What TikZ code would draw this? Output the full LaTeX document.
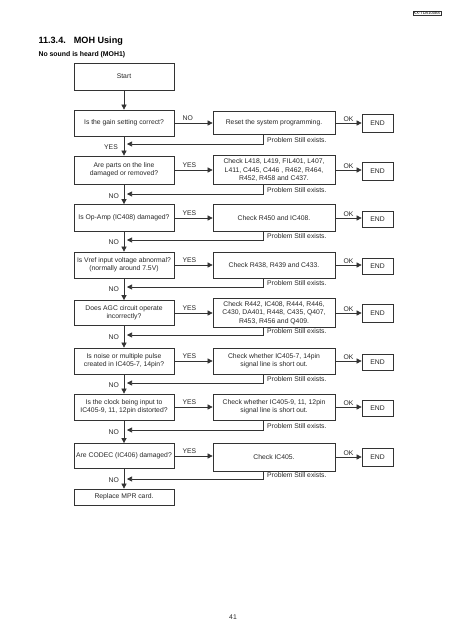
\documentclass[tikz,border=0pt]{standalone}
\usepackage{fontspec}
\setmainfont{Liberation Sans}
\usetikzlibrary{arrows.meta}
\newcommand\boxfont{\fontsize{6.8pt}{8.2pt}\selectfont}

\begin{document}
\begin{tikzpicture}[x=1pt,y=-1pt,
    box/.style={draw=black!80,line width=0.7pt,font=\boxfont,text=black!85,align=center,inner sep=0pt},
    ask/.style={box,minimum width=100pt,minimum height=26pt},
    fix/.style={box,minimum width=122pt,minimum height=26pt},
    endbox/.style={box,minimum width=31pt,minimum height=16pt},
    lbl/.style={font=\boxfont,text=black!85,inner sep=0pt},
    flow/.style={draw=black!80,line width=0.6pt,-{Triangle[length=5pt,width=5pt]}}]

    \useasboundingbox (0,0) rectangle (452,640);

    % page head
    \node[draw=black!80,line width=0.5pt,font=\fontsize{4pt}{4pt}\selectfont,inner sep=0.7pt] (model) at (427,13) {KX-TDA100BX};
    \node[anchor=west,font=\bfseries\fontsize{9.1pt}{11pt}\selectfont] (title) at (35,41.5) {11.3.4.\hspace{8pt}MOH Using};
    \node[anchor=west,font=\bfseries\fontsize{6.9pt}{8pt}\selectfont] (sub) at (35,55) {No sound is heard (MOH1)};

    % boxes
    \node[ask,minimum height=27pt] (start) at (124,76.5) {Start};

    \node[ask] (q1) at (124,123) {Is the gain setting correct?};
    \node[fix,minimum height=23pt] (fix1) at (274,123) {Reset the system programming.};
    \node[endbox,minimum height=18pt] (end1) at (377.5,123) {END};

    \node[ask,minimum height=28pt] (q2) at (124,170) {Are parts on the line\\damaged or removed?};
    \node[fix,minimum height=29pt] (fix2) at (274,170) {Check L418, L419, FIL401, L407,\\L411, C445, C446 , R462, R464,\\R452, R458 and C437.};
    \node[endbox,minimum height=18pt] (end2) at (377.5,171) {END};

    \node[ask,minimum height=27pt] (q3) at (124,218) {Is Op-Amp (IC408) damaged?};
    \node[fix,minimum height=27pt] (fix3) at (274,218) {Check R450 and IC408.};
    \node[endbox] (end3) at (377.5,219) {END};

    \node[ask] (q4) at (124,265) {Is Vref input voltage abnormal?\\(normally around 7.5V)};
    \node[fix] (fix4) at (274,265) {Check R438, R439 and C433.};
    \node[endbox] (end4) at (377.5,266) {END};

    \node[ask,minimum height=25pt] (q5) at (124,313) {Does AGC circuit operate\\incorrectly?};
    \node[fix,minimum height=29pt] (fix5) at (274,313) {Check R442, IC408, R444, R446,\\C430, DA401, R448, C435, Q407,\\R453, R456 and Q409.};
    \node[endbox,minimum height=18pt] (end5) at (377.5,313.5) {END};

    \node[ask] (q6) at (124,361) {Is noise or multiple pulse\\created in IC405-7, 14pin?};
    \node[fix] (fix6) at (274,361) {Check whether IC405-7, 14pin\\signal line is short out.};
    \node[endbox] (end6) at (377.5,362) {END};

    \node[ask] (q7) at (124,407) {Is the clock being input to\\IC405-9, 11, 12pin distorted?};
    \node[fix] (fix7) at (274,407) {Check whether IC405-9, 11, 12pin\\signal line is short out.};
    \node[endbox] (end7) at (377.5,408) {END};

    \node[ask,minimum height=25pt] (q8) at (124,456) {Are CODEC (IC406) damaged?};
    \node[fix,minimum height=28pt] (fix8) at (274,457) {Check IC405.};
    \node[endbox,minimum height=18pt] (end8) at (377.5,457) {END};

    \node[ask,minimum height=16pt] (repl) at (124,497) {Replace MPR card.};

    \node[lbl] (page) at (233,617) {41};

    % down the left column
    \draw[flow] (start) -- (q1);
    \draw[flow] (q1) -- (q2);
    \draw[flow] (q2) -- (q3);
    \draw[flow] (q3) -- (q4);
    \draw[flow] (q4) -- (q5);
    \draw[flow] (q5) -- (q6);
    \draw[flow] (q6) -- (q7);
    \draw[flow] (q7) -- (q8);
    \draw[flow] (q8) -- (repl);

    % across to the checks
    \draw[flow] (q1.east) -- (q1.east -| fix1.west) node[lbl,pos=0,anchor=south west,xshift=8pt,yshift=2pt] {NO};
    \draw[flow] (q2.east) -- (q2.east -| fix2.west) node[lbl,pos=0,anchor=south west,xshift=8pt,yshift=2pt] {YES};
    \draw[flow] (q3.east) -- (q3.east -| fix3.west) node[lbl,pos=0,anchor=south west,xshift=8pt,yshift=2pt] {YES};
    \draw[flow] (q4.east) -- (q4.east -| fix4.west) node[lbl,pos=0,anchor=south west,xshift=8pt,yshift=2pt] {YES};
    \draw[flow] (q5.east) -- (q5.east -| fix5.west) node[lbl,pos=0,anchor=south west,xshift=8pt,yshift=2pt] {YES};
    \draw[flow] (q6.east) -- (q6.east -| fix6.west) node[lbl,pos=0,anchor=south west,xshift=8pt,yshift=2pt] {YES};
    \draw[flow] (q7.east) -- (q7.east -| fix7.west) node[lbl,pos=0,anchor=south west,xshift=8pt,yshift=2pt] {YES};
    \draw[flow] (q8.east) -- (q8.east -| fix8.west) node[lbl,pos=0,anchor=south west,xshift=8pt,yshift=2pt] {YES};

    \draw[flow] (fix1.east) -- (fix1.east -| end1.west) node[lbl,pos=0,anchor=south west,xshift=8pt,yshift=1.5pt] {OK};
    \draw[flow] (fix2.east) -- (fix2.east -| end2.west) node[lbl,pos=0,anchor=south west,xshift=8pt,yshift=1.5pt] {OK};
    \draw[flow] (fix3.east) -- (fix3.east -| end3.west) node[lbl,pos=0,anchor=south west,xshift=8pt,yshift=1.5pt] {OK};
    \draw[flow] (fix4.east) -- (fix4.east -| end4.west) node[lbl,pos=0,anchor=south west,xshift=8pt,yshift=1.5pt] {OK};
    \draw[flow] (fix5.east) -- (fix5.east -| end5.west) node[lbl,pos=0,anchor=south west,xshift=8pt,yshift=1.5pt] {OK};
    \draw[flow] (fix6.east) -- (fix6.east -| end6.west) node[lbl,pos=0,anchor=south west,xshift=8pt,yshift=1.5pt] {OK};
    \draw[flow] (fix7.east) -- (fix7.east -| end7.west) node[lbl,pos=0,anchor=south west,xshift=8pt,yshift=1.5pt] {OK};
    \draw[flow] (fix8.east) -- (fix8.east -| end8.west) node[lbl,pos=0,anchor=south west,xshift=8pt,yshift=1.5pt] {OK};

    % back to the column
    \coordinate (back1) at (127,144);
    \coordinate (back2) at (127,194);
    \coordinate (back3) at (127,240);
    \coordinate (back4) at (127,287);
    \coordinate (back5) at (127,335);
    \coordinate (back6) at (127,383);
    \coordinate (back7) at (127,430);
    \coordinate (back8) at (127,479);

    \draw[flow] ([xshift=-11pt]fix1.south) |- (back1);
    \draw[flow] ([xshift=-11pt]fix2.south) |- (back2);
    \draw[flow] ([xshift=-11pt]fix3.south) |- (back3);
    \draw[flow] ([xshift=-11pt]fix4.south) |- (back4);
    \draw[flow] ([xshift=-11pt]fix5.south) |- (back5);
    \draw[flow] ([xshift=-11pt]fix6.south) |- (back6);
    \draw[flow] ([xshift=-11pt]fix7.south) |- (back7);
    \draw[flow] ([xshift=-11pt]fix8.south) |- (back8);

    \node[lbl,anchor=west] (still1) at (267,140.5) {Problem Still exists.};
    \node[lbl,anchor=west] (still2) at (267,190.5) {Problem Still exists.};
    \node[lbl,anchor=west] (still3) at (267,236.5) {Problem Still exists.};
    \node[lbl,anchor=west] (still4) at (267,283.5) {Problem Still exists.};
    \node[lbl,anchor=west] (still5) at (267,331.5) {Problem Still exists.};
    \node[lbl,anchor=west] (still6) at (267,379.5) {Problem Still exists.};
    \node[lbl,anchor=west] (still7) at (267,426.5) {Problem Still exists.};
    \node[lbl,anchor=west] (still8) at (267,475.5) {Problem Still exists.};

    \node[lbl,anchor=east] (yes1) at (118,147) {YES};
    \node[lbl,anchor=east] (no2) at (119,196) {NO};
    \node[lbl,anchor=east] (no3) at (119,242) {NO};
    \node[lbl,anchor=east] (no4) at (119,289) {NO};
    \node[lbl,anchor=east] (no5) at (119,337) {NO};
    \node[lbl,anchor=east] (no6) at (119,385) {NO};
    \node[lbl,anchor=east] (no7) at (119,432) {NO};
    \node[lbl,anchor=east] (no8) at (119,480) {NO};
\end{tikzpicture}
\end{document}
